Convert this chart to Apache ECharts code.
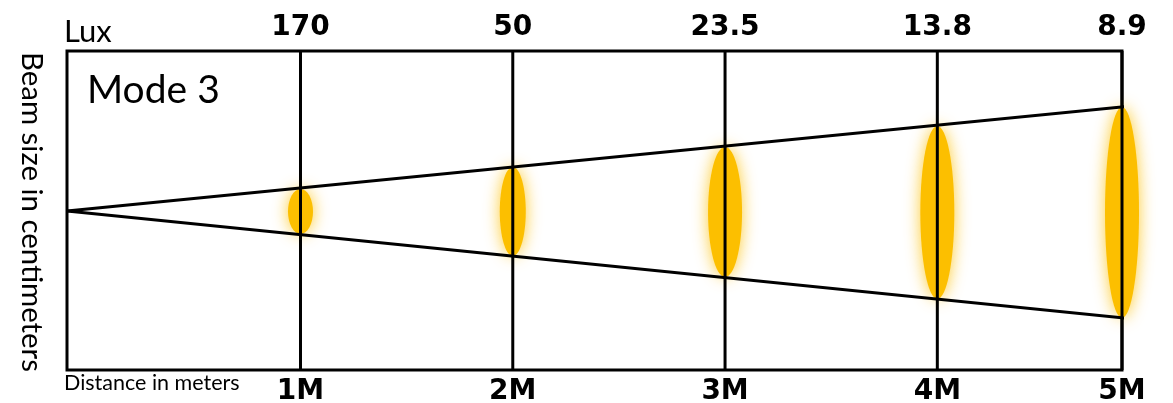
<!DOCTYPE html>
<html>
<head>
<meta charset="utf-8">
<script src="https://cdn.jsdelivr.net/npm/echarts@6/dist/echarts.min.js"></script>
<style>
  html, body { margin: 0; padding: 0; background: #fff; }
  #chart { width: 1173px; height: 403px; }
</style>
</head>
<body>
<div id="chart"></div>
<script>
// ---- data ----
const distanceLabels = ['1M', '2M', '3M', '4M', '5M'];
const luxValues = ['170', '50', '23.5', '13.8', '8.9'];
// place of each measuring plane along the drawing's distance axis (the 5 m plane sits on the frame edge)
const planeX = [1, 2, 3, 4, 4.87];
// beam edges at each plane (drawing units, centre of the beam = 0)
const beamTop = [22, 44, 64, 85, 104];
const beamBottom = [-23, -45, -66, -88, -107];
// outer beam lines: from the source to the right edge
const edgeX = [-0.1, 5.11];
const edgeTop = [0, 109];
const edgeBottom = [0, -112];

// ---- styles ----
const spotWidths = [25, 26, 34, 34, 34];
const ink = '#000';
const amber = '#FCBF00';
const labelFont = '"DejaVu Sans", sans-serif';
const textFont = 'Lato, "Noto Sans", sans-serif';

const chart = echarts.init(document.getElementById('chart'), null, { renderer: 'canvas' });

const spotData = planeX.map((x, i) => [x, beamTop[i], beamBottom[i]]);
const planeData = planeX.map((x, i) => [x, i]);

const option = {
  animation: false,
  backgroundColor: '#fff',
  grid: {
    left: 67, right: 51, top: 51, bottom: 33,
    show: true, borderColor: ink, borderWidth: 3, backgroundColor: 'transparent'
  },
  xAxis: { type: 'value', min: -0.1, max: 4.87, show: false },
  yAxis: { type: 'value', min: -159, max: 160, show: false },
  graphic: [
    { type: 'text', left: 64, top: 16, style: { text: 'Lux', font: '400 31px ' + textFont, fill: ink } },
    { type: 'text', left: 87, top: 71, style: { text: 'Mode 3', font: '400 39px ' + textFont, fill: ink } },
    { type: 'text', left: 64, top: 372, style: { text: 'Distance in meters', font: '400 21.5px ' + textFont, fill: ink } },
    { type: 'text', x: 31, y: 52, rotation: -Math.PI / 2,
      style: { text: 'Beam size in centimeters', font: '400 29.4px ' + textFont, fill: ink, textAlign: 'left', textVerticalAlign: 'middle' } }
  ],
  series: [
    {
      type: 'custom',
      name: 'spots',
      z: 1,
      data: spotData,
      renderItem: function (params, api) {
        const i = params.dataIndex;
        const p1 = api.coord([api.value(0), api.value(1)]);
        const p2 = api.coord([api.value(0), api.value(2)]);
        return {
          type: 'ellipse',
          shape: { cx: p1[0], cy: (p1[1] + p2[1]) / 2, rx: spotWidths[i] / 2, ry: (p2[1] - p1[1]) / 2 },
          style: { fill: amber, shadowBlur: 16, shadowColor: 'rgba(252,191,0,0.8)' }
        };
      }
    },
    {
      type: 'line', name: 'beam top', z: 3, clip: false, symbol: 'none',
      data: edgeX.map((x, i) => [x, edgeTop[i]]),
      lineStyle: { color: ink, width: 3 }
    },
    {
      type: 'line', name: 'beam bottom', z: 3, clip: false, symbol: 'none',
      data: edgeX.map((x, i) => [x, edgeBottom[i]]),
      lineStyle: { color: ink, width: 3 }
    },
    {
      type: 'custom',
      name: 'planes',
      z: 4,
      clip: false,
      data: planeData,
      renderItem: function (params, api) {
        const i = params.dataIndex;
        const cs = params.coordSys;
        const x = api.coord([api.value(0), 0])[0];
        return {
          type: 'group',
          children: [
            { type: 'line', shape: { x1: x, y1: cs.y, x2: x, y2: cs.y + cs.height },
              style: { stroke: ink, lineWidth: 3 } },
            { type: 'text', x: x, y: cs.y - 9,
              style: { text: luxValues[i], font: 'bold 28px ' + labelFont, fill: ink, textAlign: 'center', textVerticalAlign: 'bottom' } },
            { type: 'text', x: x, y: cs.y + cs.height + 8,
              style: { text: distanceLabels[i], font: 'bold 28px ' + labelFont, fill: ink, textAlign: 'center', textVerticalAlign: 'top' } }
          ]
        };
      }
    }
  ]
};
chart.setOption(option);
</script>
</body>
</html>
